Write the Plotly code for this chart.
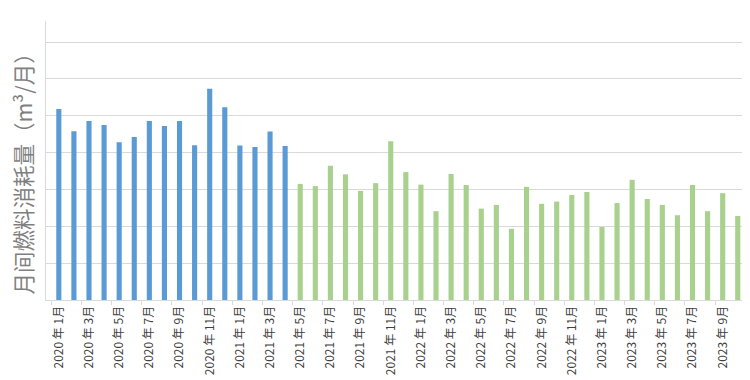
import plotly.graph_objects as go

months = [f"{y} 年 {m}月" for y in (2020, 2021, 2022, 2023) for m in range(1, 13)][:46]

before_values = [5.18, 4.58, 4.86, 4.75, 4.28, 4.42, 4.86, 4.72, 4.86, 4.20,
                 5.73, 5.23, 4.19, 4.15, 4.57, 4.18]
after_values = [3.15, 3.09, 3.64, 3.41, 2.96, 3.17, 4.31, 3.47, 3.13, 2.41,
                3.42, 3.12, 2.48, 2.58, 1.93, 3.07, 2.61, 2.67, 2.85, 2.93,
                1.98, 2.63, 3.26, 2.74, 2.58, 2.30, 3.12, 2.41, 2.90, 2.28]

before_months = months[:len(before_values)]
after_months = months[len(before_values):len(before_values) + len(after_values)]

idx = {m: i for i, m in enumerate(months)}
tick_labels = months[::2]

fig = go.Figure()
fig.add_trace(go.Bar(x=[idx[m] for m in before_months], y=before_values,
                     marker=dict(color="#5B9BD5", line=dict(width=0)),
                     width=0.34, hovertext=before_months, name="before"))
fig.add_trace(go.Bar(x=[idx[m] for m in after_months], y=after_values,
                     marker=dict(color="#A9D18E", line=dict(width=0)),
                     width=0.34, hovertext=after_months, name="after"))

fig.update_layout(
    width=750, height=380,
    margin=dict(l=38, r=13, t=13, b=88, autoexpand=False),
    plot_bgcolor="white", paper_bgcolor="white",
    barmode="overlay", showlegend=False,
    font=dict(family="Noto Sans CJK SC, Noto Sans, sans-serif", color="#404040"),
    xaxis=dict(
        automargin=False,
        range=[-0.85, 45.48],
        tickmode="array",
        tickvals=[idx[m] for m in tick_labels],
        ticktext=tick_labels,
        tickangle=-90,
        tickfont=dict(size=12, color="#404040"),
        ticks="",
        showgrid=False,
        showline=True, linecolor="#D9D9D9", linewidth=1,
        zeroline=False,
        minor=dict(tickmode="linear", tick0=1.5, dtick=2, ticks="outside",
                   ticklen=4, tickcolor="#D9D9D9", showgrid=False),
    ),
    yaxis=dict(
        automargin=False,
        range=[0, 7.57],
        dtick=1,
        showticklabels=False,
        showgrid=True, gridcolor="#D9D9D9", gridwidth=1,
        showline=True, linecolor="#D9D9D9", linewidth=1,
        zeroline=False,
        ticks="",
    ),
    annotations=[dict(
        text="月间燃料消耗量（m³/月）",
        xref="paper", yref="paper",
        x=-0.034, y=0.472, xanchor="center", yanchor="middle",
        textangle=-90, showarrow=False,
        font=dict(size=21.5, color="#7F7F7F",
                  family="Noto Sans CJK SC, sans-serif"),
    )],
)

fig.write_html("out.html")
